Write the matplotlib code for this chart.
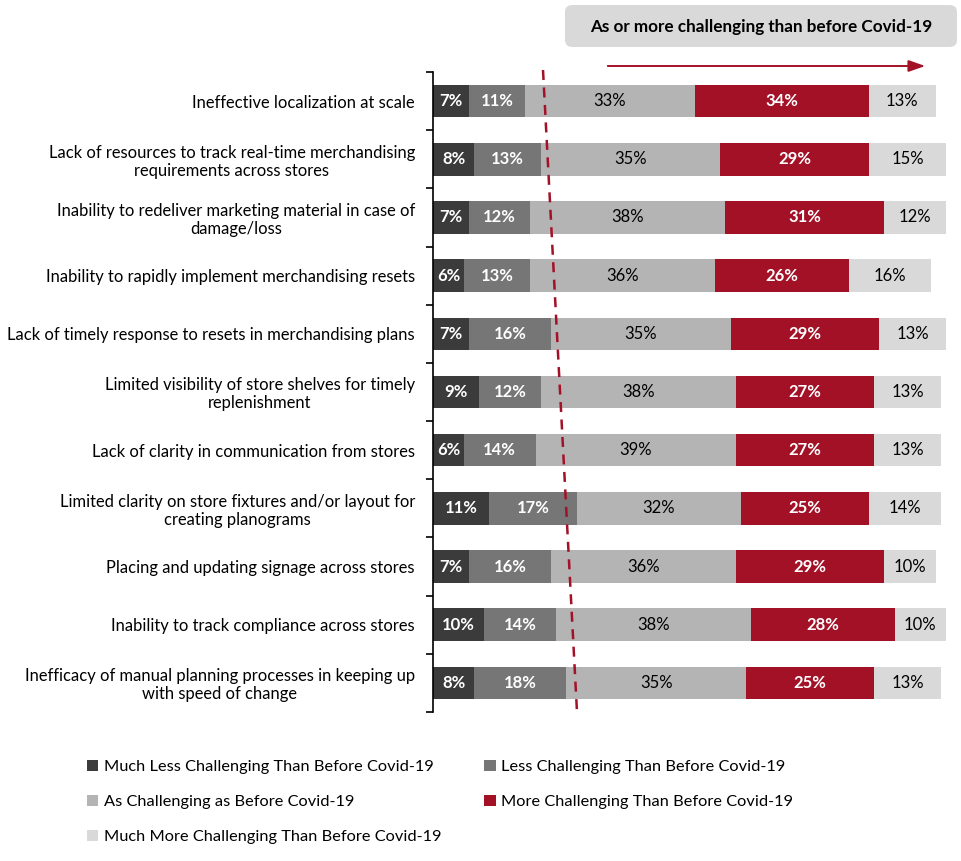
"""Merchandising challenges vs. before Covid-19 (stacked bars)"""
import matplotlib
matplotlib.use('Agg')
import matplotlib.pyplot as plt
from matplotlib.patches import FancyBboxPatch, Patch
from matplotlib.lines import Line2D

plt.rcParams['font.family'] = ['Lato', 'DejaVu Sans']

categories = [
	'Ineffective localization at scale',
	'Lack of resources to track real-time merchandising\nrequirements across stores',
	'Inability to redeliver marketing material in case of\ndamage/loss',
	'Inability to rapidly implement merchandising resets',
	'Lack of timely response to resets in merchandising plans',
	'Limited visibility of store shelves for timely\nreplenishment',
	'Lack of clarity in communication from stores',
	'Limited clarity on store fixtures and/or layout for\ncreating planograms',
	'Placing and updating signage across stores',
	'Inability to track compliance across stores',
	'Inefficacy of manual planning processes in keeping up\nwith speed of change',
]

much_less = [7, 8, 7, 6, 7, 9, 6, 11, 7, 10, 8]
less = [11, 13, 12, 13, 16, 12, 14, 17, 16, 14, 18]
same = [33, 35, 38, 36, 35, 38, 39, 32, 36, 38, 35]
more = [34, 29, 31, 26, 29, 27, 27, 25, 29, 28, 25]
much_more = [13, 15, 12, 16, 13, 13, 13, 14, 10, 10, 13]

series_names = [
	'Much Less Challenging Than Before Covid-19',
	'Less Challenging Than Before Covid-19',
	'As Challenging as Before Covid-19',
	'More Challenging Than Before Covid-19',
	'Much More Challenging Than Before Covid-19',
]
series = [much_less, less, same, more, much_more]
colors = ['#3b3b3b', '#767676', '#b4b4b4', '#a31127', '#d9d9d9']
text_colors = ['white', 'white', 'black', 'white', 'black']

fig = plt.figure(figsize=(9.61, 8.61), dpi=100)
ax = fig.add_axes([433 / 961, 1 - 712 / 861, 513 / 961, 640 / 861])

n = len(categories)
ypos = list(range(n))
left = [0] * n
for vals, col, tcol in zip(series, colors, text_colors):
	ax.barh(ypos, vals, left=left, height=0.56, color=col, clip_on=False)
	for i, v in enumerate(vals):
		ax.text(left[i] + v / 2, ypos[i], f'{v}%', ha='center', va='center',
				color=tcol, fontsize=12,
				fontweight='bold' if tcol == 'white' else 'normal')
	left = [l + v for l, v in zip(left, vals)]

ax.set_xlim(0, 100)
ax.set_ylim(n - 0.5, -0.5)
ax.set_xticks([])
ax.set_yticks(ypos)
ax.set_yticklabels(categories, fontsize=11.9, multialignment='center',
				   linespacing=1.15)
ax.tick_params(axis='y', which='major', length=0, pad=13)
ax.set_yticks([i - 0.5 for i in range(n + 1)], minor=True)
ax.tick_params(axis='y', which='minor', length=5, width=1.2, color='black')
for s in ['top', 'right', 'bottom']:
	ax.spines[s].set_visible(False)
ax.spines['left'].set_linewidth(1.2)

# dashed slanted separator
fig.add_artist(Line2D([543 / 961, 577 / 961], [1 - 70 / 861, 1 - 712 / 861],
					  transform=fig.transFigure, color='#a31127', lw=1.8,
					  linestyle=(0, (4, 3))))

# header box and arrow
fig.add_artist(FancyBboxPatch((565 / 961, 1 - 47 / 861), 392 / 961, 42 / 861,
							  boxstyle='round,pad=0,rounding_size=0.008',
							  transform=fig.transFigure, facecolor='#d9d9d9',
							  edgecolor='none'))
fig.text(761 / 961, 1 - 27 / 861, 'As or more challenging than before Covid-19',
		 ha='center', va='center', fontsize=12.3, fontweight='bold')
ax.annotate('', xy=(928 / 961, 1 - 66 / 861), xytext=(605 / 961, 1 - 66 / 861),
			xycoords='figure fraction', textcoords='figure fraction',
			arrowprops=dict(arrowstyle='-|>,head_length=1.0,head_width=0.35',
							color='#a31127', lw=1.4))

# legend, row-major order
handles = [Patch(facecolor=c, edgecolor='none') for c in colors]
order = [0, 2, 4, 1, 3]
fig.legend([handles[i] for i in order], [series_names[i] for i in order],
		   ncol=2, loc='upper left', bbox_to_anchor=(72 / 961, 1 - 745 / 861),
		   frameon=False, fontsize=11.8, handlelength=0.7, handleheight=0.7,
		   handletextpad=0.35, columnspacing=2.6, labelspacing=1.25)

fig.savefig('out.png', dpi=100)
